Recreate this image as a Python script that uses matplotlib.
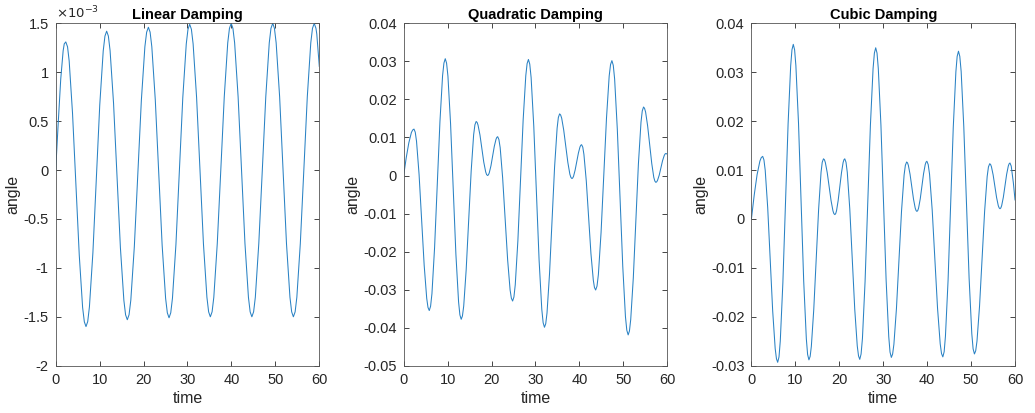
import matplotlib.pyplot as plt
from matplotlib.ticker import FormatStrFormatter

# values
# linear damping, angle in units of 1e-3
t_lin = [0, 0.6, 1.15, 1.7, 2.3,
         3.07, 3.83, 4.6, 5.37, 6.13, 6.9,
         7.68, 8.47, 9.25, 10.03, 10.82, 11.6,
         12.38, 13.17, 13.95, 14.73, 15.52, 16.3,
         17.1, 17.9, 18.7, 19.5, 20.3, 21.1,
         21.88, 22.67, 23.45, 24.23, 25.02, 25.8,
         26.58, 27.37, 28.15, 28.93, 29.72, 30.5,
         31.28, 32.07, 32.85, 33.63, 34.42, 35.2,
         35.99, 36.78, 37.58, 38.37, 39.16, 39.95,
         40.73, 41.52, 42.3, 43.08, 43.87, 44.65,
         45.44, 46.23, 47.03, 47.82, 48.61, 49.4,
         50.18, 50.97, 51.75, 52.53, 53.32, 54.1,
         54.89, 55.68, 56.48, 57.27, 58.06, 58.85,
         59.43, 60]
a_lin = [0, 0.5, 0.93, 1.22, 1.31,
         1.115, 0.583, -0.145, -0.873, -1.405, -1.60,
         -1.398, -0.845, -0.09, 0.665, 1.218, 1.42,
         1.222, 0.683, -0.055, -0.793, -1.332, -1.53,
         -1.33, -0.783, -0.035, 0.713, 1.26, 1.46,
         1.261, 0.718, -0.025, -0.768, -1.311, -1.51,
         -1.309, -0.76, -0.01, 0.74, 1.289, 1.49,
         1.29, 0.743, -0.005, -0.753, -1.3, -1.5,
         -1.3, -0.75, 0, 0.75, 1.3, 1.5,
         1.3, 0.75, 0, -0.75, -1.3, -1.5,
         -1.3, -0.75, 0, 0.75, 1.3, 1.5,
         1.3, 0.75, 0, -0.75, -1.3, -1.5,
         -1.3, -0.75, 0, 0.75, 1.3, 1.5,
         1.39, 1.06]
# extra readings close to each peak / trough
t_lin_pk = [1.95, 2.7, 6.52, 7.29, 11.21, 11.99, 15.91, 16.7, 20.7, 21.49,
            25.41, 26.19, 30.11, 30.89, 34.81, 35.6, 39.55, 40.34,
            44.26, 45.05, 49.0, 49.79, 53.71, 54.5, 58.45, 59.24]
a_lin_pk = [1.29, 1.26, -1.551, -1.549, 1.369, 1.37, -1.48, -1.479, 1.409, 1.41,
            -1.459, -1.459, 1.439, 1.439, -1.449, -1.449, 1.449, 1.449,
            -1.449, -1.449, 1.449, 1.449, -1.449, -1.449, 1.449, 1.449]

# quadratic damping
t_quad = [0, 0.59, 1.18, 1.76, 2.35,
          2.93, 3.51, 4.09, 4.67, 5.25, 5.83,
          6.44, 7.04, 7.65, 8.26, 8.86, 9.47,
          10.08, 10.68, 11.29, 11.89, 12.5, 13.1,
          13.67, 14.23, 14.8, 15.37, 15.93, 16.5,
          16.93, 17.37, 17.8, 18.23, 18.67, 19.1,
          19.48, 19.87, 20.25, 20.63, 21.02, 21.4,
          21.97, 22.53, 23.1, 23.67, 24.23, 24.8,
          25.4, 26.0, 26.6, 27.2, 27.8, 28.4,
          29.01, 29.62, 30.23, 30.83, 31.44, 32.05,
          32.63, 33.2, 33.78, 34.35, 34.93, 35.5,
          35.97, 36.43, 36.9, 37.37, 37.83, 38.3,
          38.67, 39.03, 39.4, 39.77, 40.13, 40.5,
          41.03, 41.57, 42.1, 42.63, 43.17, 43.7,
          44.32, 44.93, 45.55, 46.17, 46.78, 47.4,
          48.02, 48.63, 49.25, 49.87, 50.48, 51.1,
          51.68, 52.27, 52.85, 53.43, 54.02, 54.6,
          55.07, 55.53, 56.0, 56.47, 56.93, 57.4,
          57.78, 58.17, 58.55, 58.93, 59.32, 59.7, 60]
a_quad = [0, 0.0047, 0.0086, 0.0113, 0.0122,
          0.0090, 0.0003, -0.01165, -0.02358, -0.0323, -0.0355,
          -0.03106, -0.01895, -0.0024, 0.01415, 0.02626, 0.0307,
          0.02611, 0.01358, -0.00355, -0.02068, -0.03321, -0.0378,
          -0.03432, -0.0248, -0.0118, 0.0012, 0.01072, 0.0142,
          0.01325, 0.01065, 0.0071, 0.00355, 0.00095, 0.0,
          0.00068, 0.00255, 0.0051, 0.00765, 0.00952, 0.0102,
          0.00731, -0.0006, -0.0114, -0.0222, -0.03011, -0.033,
          -0.02875, -0.01713, -0.00125, 0.01463, 0.02625, 0.0305,
          0.02578, 0.0129, -0.0047, -0.0223, -0.03518, -0.0399,
          -0.03614, -0.02588, -0.01185, 0.00218, 0.01244, 0.0162,
          0.01506, 0.01195, 0.0077, 0.00345, 0.00034, -0.0008,
          -0.0002, 0.00143, 0.00365, 0.00588, 0.0075, 0.0081,
          0.00554, -0.00145, -0.011, -0.02055, -0.02754, -0.0301,
          -0.02606, -0.01503, 0.00005, 0.01513, 0.02616, 0.0302,
          0.02537, 0.01218, -0.00585, -0.02388, -0.03707, -0.0419,
          -0.03789, -0.02693, -0.01195, 0.00303, 0.01399, 0.018,
          0.01667, 0.01305, 0.0081, 0.00315, -0.00047, -0.0018,
          -0.00129, 0.0001, 0.002, 0.0039, 0.00529, 0.0058, 0.0056]
t_quad_pk = [2.06, 2.64, 5.54, 6.13, 9.17, 9.77, 12.8, 13.38, 16.22, 16.72,
             18.88, 19.29, 21.21, 21.68, 24.52, 25.1, 28.1, 28.7, 31.75, 32.34,
             35.21, 35.73, 38.07, 38.48, 40.32, 40.77, 43.43, 44.01, 47.09, 47.71,
             50.79, 51.39, 54.31, 54.83, 57.17, 57.59, 59.51]
a_quad_pk = [0.01197, 0.01139, -0.03469, -0.03437, 0.02957, 0.02954, -0.03664, -0.03692,
             0.01332, 0.01396, 0.00024, 0.00017, 0.01003, 0.00947, -0.03227, -0.03192,
             0.02942, 0.0293, -0.0387, -0.03895, 0.01525, 0.01591, -0.00051, -0.00065,
             0.00795, 0.00745, -0.02945, -0.02907, 0.02917, 0.02897, -0.04067, -0.04088,
             0.01698, 0.01766, -0.00146, -0.00167, 0.00567]

# cubic damping
t_cub = [0, 0.64, 1.29, 1.93, 2.57,
         3.14, 3.71, 4.28, 4.84, 5.41, 5.98,
         6.57, 7.16, 7.76, 8.35, 8.94, 9.53,
         10.12, 10.72, 11.31, 11.9, 12.5, 13.09,
         13.64, 14.19, 14.75, 15.3, 15.85, 16.4,
         16.83, 17.26, 17.7, 18.13, 18.56, 18.99,
         19.37, 19.74, 20.12, 20.5, 20.87, 21.25,
         21.82, 22.39, 22.96, 23.52, 24.09, 24.66,
         25.27, 25.87, 26.48, 27.08, 27.69, 28.29,
         28.88, 29.48, 30.07, 30.66, 31.26, 31.85,
         32.43, 33.01, 33.59, 34.17, 34.75, 35.33,
         35.72, 36.11, 36.5, 36.89, 37.28, 37.67,
         38.05, 38.43, 38.81, 39.18, 39.56, 39.94,
         40.55, 41.15, 41.76, 42.36, 42.97, 43.57,
         44.16, 44.76, 45.35, 45.94, 46.54, 47.13,
         47.74, 48.34, 48.95, 49.55, 50.16, 50.76,
         51.34, 51.92, 52.5, 53.08, 53.66, 54.24,
         54.63, 55.02, 55.41, 55.8, 56.19, 56.58,
         56.96, 57.34, 57.72, 58.09, 58.47, 58.85,
         59.14, 59.62, 60]
a_cub = [0, 0.0049, 0.00905, 0.01183, 0.0128,
         0.00998, 0.00228, -0.00825, -0.01878, -0.02648, -0.0293,
         -0.02495, -0.01305, 0.0032, 0.01945, 0.03135, 0.0357,
         0.03138, 0.01958, 0.00345, -0.01268, -0.02448, -0.0288,
         -0.02605, -0.01853, -0.00825, 0.00203, 0.00955, 0.0123,
         0.01154, 0.00945, 0.0066, 0.00375, 0.00166, 0.0009,
         0.00166, 0.00375, 0.0066, 0.00945, 0.01154, 0.0123,
         0.00955, 0.00205, -0.0082, -0.01845, -0.02595, -0.0287,
         -0.02443, -0.01278, 0.00315, 0.01908, 0.03073, 0.035,
         0.03076, 0.01918, 0.00335, -0.01248, -0.02406, -0.0283,
         -0.02563, -0.01832, -0.00833, 0.00166, 0.00897, 0.01165,
         0.01097, 0.00913, 0.0066, 0.00408, 0.00223, 0.00155,
         0.00224, 0.00412, 0.00668, 0.00925, 0.01112, 0.0118,
         0.00912, 0.0018, -0.0082, -0.0182, -0.02552, -0.0282,
         -0.02401, -0.01258, 0.00305, 0.01868, 0.03011, 0.0343,
         0.03015, 0.01883, 0.00335, -0.01213, -0.02345, -0.0276,
         -0.02499, -0.01788, -0.00815, 0.00158, 0.00869, 0.0113,
         0.01068, 0.009, 0.0067, 0.0044, 0.00272, 0.0021,
         0.00273, 0.00444, 0.00678, 0.00912, 0.01083, 0.01145,
         0.0108, 0.0074, 0.0039]
t_cub_pk = [2.25, 2.85, 5.7, 6.28, 9.23, 9.83, 12.79, 13.37, 16.12, 16.62,
            18.77, 19.18, 21.06, 21.53, 24.38, 24.96, 27.99, 28.59, 31.55, 32.14,
            35.04, 35.53, 37.48, 37.86, 39.75, 40.24, 43.27, 43.87, 46.83, 47.43,
            50.46, 51.05, 53.95, 54.44, 56.39, 56.77, 58.66]
a_cub_pk = [0.01256, 0.01208, -0.02858, -0.0282, 0.0346, 0.0346, -0.0277, -0.0281,
            0.0116, 0.01211, 0.00109, 0.00109, 0.01211, 0.0116, -0.028, -0.02762,
            0.03392, 0.03392, -0.02722, -0.02762, 0.01097, 0.01148, 0.00172, 0.00172,
            0.01163, 0.01112, -0.02752, -0.02714, 0.03324, 0.03325, -0.02655, -0.02694,
            0.01064, 0.01114, 0.00226, 0.00226, 0.01129]

titles = ['Linear Damping', 'Quadratic Damping', 'Cubic Damping']
ylims = [(-2, 1.5), (-0.05, 0.04), (-0.03, 0.04)]
yticks = [[-2, -1.5, -1, -0.5, 0, 0.5, 1, 1.5],
          [-0.05, -0.04, -0.03, -0.02, -0.01, 0, 0.01, 0.02, 0.03, 0.04],
          [-0.03, -0.02, -0.01, 0, 0.01, 0.02, 0.03, 0.04]]

plt.rcParams['font.family'] = ['Liberation Sans', 'DejaVu Sans']
plt.rcParams['axes.unicode_minus'] = False

fig = plt.figure(figsize=(10.35, 4.13), dpi=100)
lefts = [0.0538, 0.390, 0.726]
series = [(t_lin + t_lin_pk, a_lin + a_lin_pk),
          (t_quad + t_quad_pk, a_quad + a_quad_pk),
          (t_cub + t_cub_pk, a_cub + a_cub_pk)]
gray = '#262626'

for i in range(3):
    ax = fig.add_axes([lefts[i], 0.1145, 0.2547, 0.829])
    # merge the readings in time order
    pts = sorted(zip(*series[i]))
    t = [p[0] for p in pts]
    a = [p[1] for p in pts]
    ax.plot(t, a, color='#2a82c4', lw=0.75)
    ax.set_xlim(0, 60)
    ax.set_ylim(*ylims[i])
    ax.set_xticks([0, 10, 20, 30, 40, 50, 60])
    ax.set_yticks(yticks[i])
    ax.yaxis.set_major_formatter(FormatStrFormatter('%g'))
    ax.tick_params(direction='in', length=3.5, width=0.6, top=True, right=True,
                   labelsize=10.5, colors=gray, pad=5)
    for s in ax.spines.values():
        s.set_color('#555555')
        s.set_linewidth(0.6)
    ax.set_title(titles[i], fontsize=10.5, fontweight='bold', pad=3)
    ax.set_xlabel('time', fontsize=11.5, color=gray, labelpad=3)
    ax.set_ylabel('angle', fontsize=11.5, color=gray, labelpad=2)
    if i == 0:
        ax.text(0.0, 1.005, r'$\times10^{-3}$', transform=ax.transAxes,
                fontsize=9.5, color=gray, va='bottom', ha='left')

plt.savefig('out.png', dpi=100)
